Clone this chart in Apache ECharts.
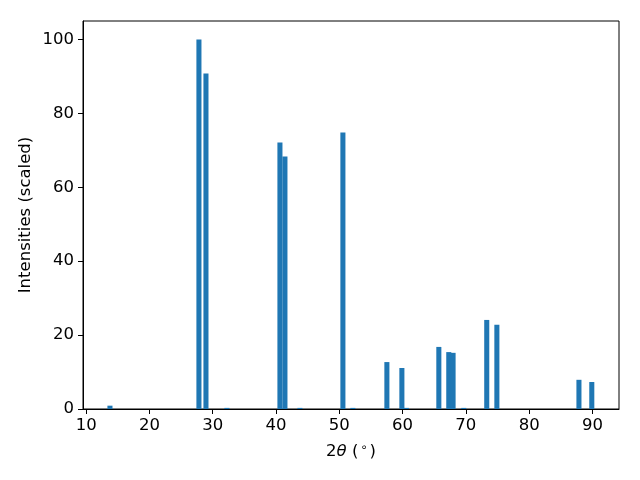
<!DOCTYPE html>
<html>
<head>
<meta charset="utf-8">
<script src="https://cdn.jsdelivr.net/npm/echarts@6/dist/echarts.min.js"></script>
<style>html,body{margin:0;padding:0;background:#fff}#c{width:640px;height:480px}</style>
</head>
<body>
<div id="c"></div>
<script>
const positions = [13.76, 27.82, 28.93, 32.24, 40.62, 41.41, 43.78, 50.57, 52.15, 57.52, 59.89, 60.6, 65.73, 67.3, 67.98, 69.67, 73.3, 74.9, 87.87, 89.9];
const intensities = [0.9, 100, 90.8, 0.3, 72.1, 68.3, 0.3, 74.8, 0.3, 12.7, 11.1, 0.3, 16.8, 15.4, 15.2, 0.3, 24.1, 22.8, 7.9, 7.3];
const xTicks = [10, 20, 30, 40, 50, 60, 70, 80, 90];
const yTicks = [0, 20, 40, 60, 80, 100];
const barWidth = 0.8;

const data = positions.map((p, i) => [p, intensities[i]]);
const chart = echarts.init(document.getElementById('c'), null, {renderer: 'canvas'});
const font = 'DejaVu Sans';
const fs = 16.5;
chart.setOption({
  animation: false,
  grid: {left: 83, right: 21, top: 21, bottom: 71, show: true, borderColor: '#000', borderWidth: 1, backgroundColor: 'transparent'},
  xAxis: {
    type: 'value', min: 9.5, max: 94.2,
    name: '{n|2}{i|θ}{n| (}{s|∘}{n|)}',
    nameLocation: 'middle', nameGap: 33,
    nameTextStyle: {rich: {
      n: {fontFamily: font, fontSize: fs, color: '#000'},
      i: {fontFamily: font, fontSize: fs, fontStyle: 'italic', color: '#000'},
      s: {fontFamily: font, fontSize: 11.5, color: '#000', verticalAlign: 'top', padding: [0, 2, 7, 2]}
    }},
    axisLine: {show: true, lineStyle: {color: '#000', width: 1}},
    axisTick: {show: true, length: 5, lineStyle: {color: '#000'}, customValues: xTicks},
    axisLabel: {color: '#000', fontFamily: font, fontSize: fs, margin: 8, customValues: xTicks},
    splitLine: {show: false}
  },
  yAxis: {
    type: 'value', min: 0, max: 105,
    name: 'Intensities (scaled)',
    nameLocation: 'middle', nameGap: 49, nameMoveOverlap: false,
    nameTextStyle: {fontFamily: font, fontSize: fs, color: '#000'},
    axisLine: {show: true, lineStyle: {color: '#000', width: 1}},
    axisTick: {show: true, length: 5, lineStyle: {color: '#000'}, customValues: yTicks},
    axisLabel: {color: '#000', fontFamily: font, fontSize: fs, margin: 9, customValues: yTicks},
    splitLine: {show: false}
  },
  series: [{
    type: 'custom',
    clip: true,
    data: data,
    encode: {x: 0, y: 1},
    renderItem: function (params, api) {
      const x = api.value(0), y = api.value(1);
      const p1 = api.coord([x - barWidth / 2, y]);
      const p2 = api.coord([x + barWidth / 2, 0]);
      return {
        type: 'rect',
        shape: {x: p1[0], y: p1[1], width: p2[0] - p1[0], height: p2[1] - p1[1]},
        style: {fill: '#1f77b4'}
      };
    }
  }]
});
</script>
</body>
</html>
